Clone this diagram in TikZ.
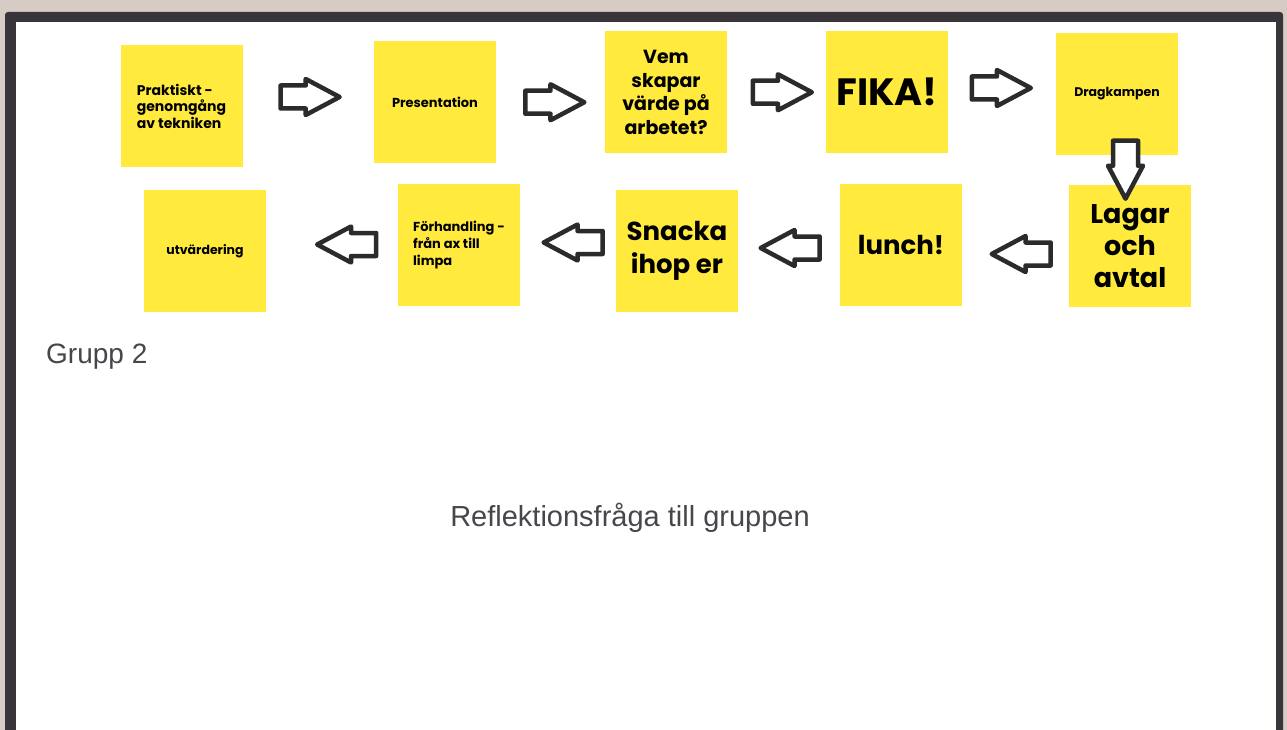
\documentclass[tikz,border=0pt]{standalone}
\usepackage{fontspec}
\setmainfont{Poppins}
\newfontfamily\plainfont{Liberation Sans}
\usepackage{tikz}
\usetikzlibrary{calc}
\usetikzlibrary{shapes.arrows}
\definecolor{bgbeige}{rgb}{0.843,0.796,0.776}
\definecolor{framedark}{rgb}{0.216,0.208,0.227}
\definecolor{noteyellow}{rgb}{1.,0.918,0.239}
\definecolor{arrowdark}{rgb}{0.17,0.17,0.17}
\definecolor{textgray}{rgb}{0.27,0.28,0.29}
\tikzset{
  note/.style={fill=noteyellow,minimum width=122pt,minimum height=122pt,inner sep=0pt,font=\bfseries,text=black},
  blockarrow/.style={single arrow,draw=arrowdark,fill=white,line width=4.5pt,line join=round,
    minimum height=59pt,text height=18.5pt,text depth=0pt,text width=0pt,single arrow head extend=6.5pt,
    single arrow tip angle=56,inner sep=0pt}
}
\begin{document}
\begin{tikzpicture}[x=1pt,y=-1pt]
            \useasboundingbox (0,0) rectangle (1287,730);
            \clip (0,0) rectangle (1287,730);
            \fill[bgbeige] (0,0) rectangle (1287,730);
            \fill[framedark,rounded corners=3pt] (5,12) rectangle (1283,760);
            \fill[white] (16,22) rectangle (1276,760);
            % first row
            \node[note,align=left,font=\bfseries\fontsize{14}{16.5}\selectfont] (praktiskt) at (181.5,106) {Praktiskt -\\genomgång\\av tekniken};
            \node[note,font=\bfseries\fontsize{13}{16}\selectfont] (presentation) at (435,102) {Presentation};
            \node[note,align=center,font=\bfseries\fontsize{19}{23.5}\selectfont] (vem) at (666,92.5) {Vem\\skapar\\värde på\\arbetet?};
            \node[note,font=\bfseries\fontsize{38}{40}\selectfont] (fika) at (887,92) {FIKA!};
            \node[note,font=\bfseries\fontsize{12.5}{15}\selectfont] (dragkampen) at (1117,94) {Dragkampen};
            % second row
            \node[note,align=center,font=\bfseries\fontsize{27}{32}\selectfont] (lagar) at (1130,246) {Lagar\\och\\avtal};
            \node[note,font=\bfseries\fontsize{26}{30}\selectfont] (lunch) at (901,245) {lunch!};
            \node[note,align=center,font=\bfseries\fontsize{26}{33}\selectfont] (snacka) at (677,251) {Snacka\\ihop er};
            \node[note,align=left,font=\bfseries\fontsize{13}{17}\selectfont] (forhandling) at (459,245) {Förhandling -\\från ax till\\limpa};
            \node[note,font=\bfseries\fontsize{12.5}{15}\selectfont] (utvardering) at (205,251) {utvärdering};
            % arrows
            \node[blockarrow] (a1) at ($(praktiskt.east)!0.5!(presentation.west)+(-9,-7)$) {};
            \node[blockarrow] (a2) at ($(presentation.east)!0.5!(vem.west)+(-6.5,5)$) {};
            \node[blockarrow] (a3) at ($(vem.east)!0.5!(fika.west)+(-5,0)$) {};
            \node[blockarrow] (a4) at ($(fika.east)!0.5!(dragkampen.west)+(-11.5,-5)$) {};
            \node[blockarrow,shape border rotate=270,anchor=tail,minimum height=58pt,text height=0pt,text width=20.5pt,single arrow head extend=5pt] (a5) at ($(dragkampen.south)+(8.5,-16.75)$) {};
            \node[blockarrow,shape border rotate=180] (a6) at ($(lagar.west)!0.5!(lunch.east)+(16.5,8.5)$) {};
            \node[blockarrow,shape border rotate=180] (a7) at ($(lunch.west)!0.5!(snacka.east)+(12,0)$) {};
            \node[blockarrow,shape border rotate=180] (a8) at ($(snacka.west)!0.5!(forhandling.east)+(16,-5.5)$) {};
            \node[blockarrow,shape border rotate=180] (a9) at ($(forhandling.west)!0.5!(utvardering.east)+(25.5,-3.5)$) {};
            % texts
            \node[anchor=base west,inner sep=0pt,text=textgray,font=\plainfont\fontsize{28}{30}\selectfont] (grupp) at (46,363) {Grupp 2};
            \node[anchor=base,inner sep=0pt,text=textgray,font=\plainfont\fontsize{29}{31}\selectfont] (reflektion) at (630,526) {Reflektionsfråga till gruppen};
        \end{tikzpicture}
\end{document}
